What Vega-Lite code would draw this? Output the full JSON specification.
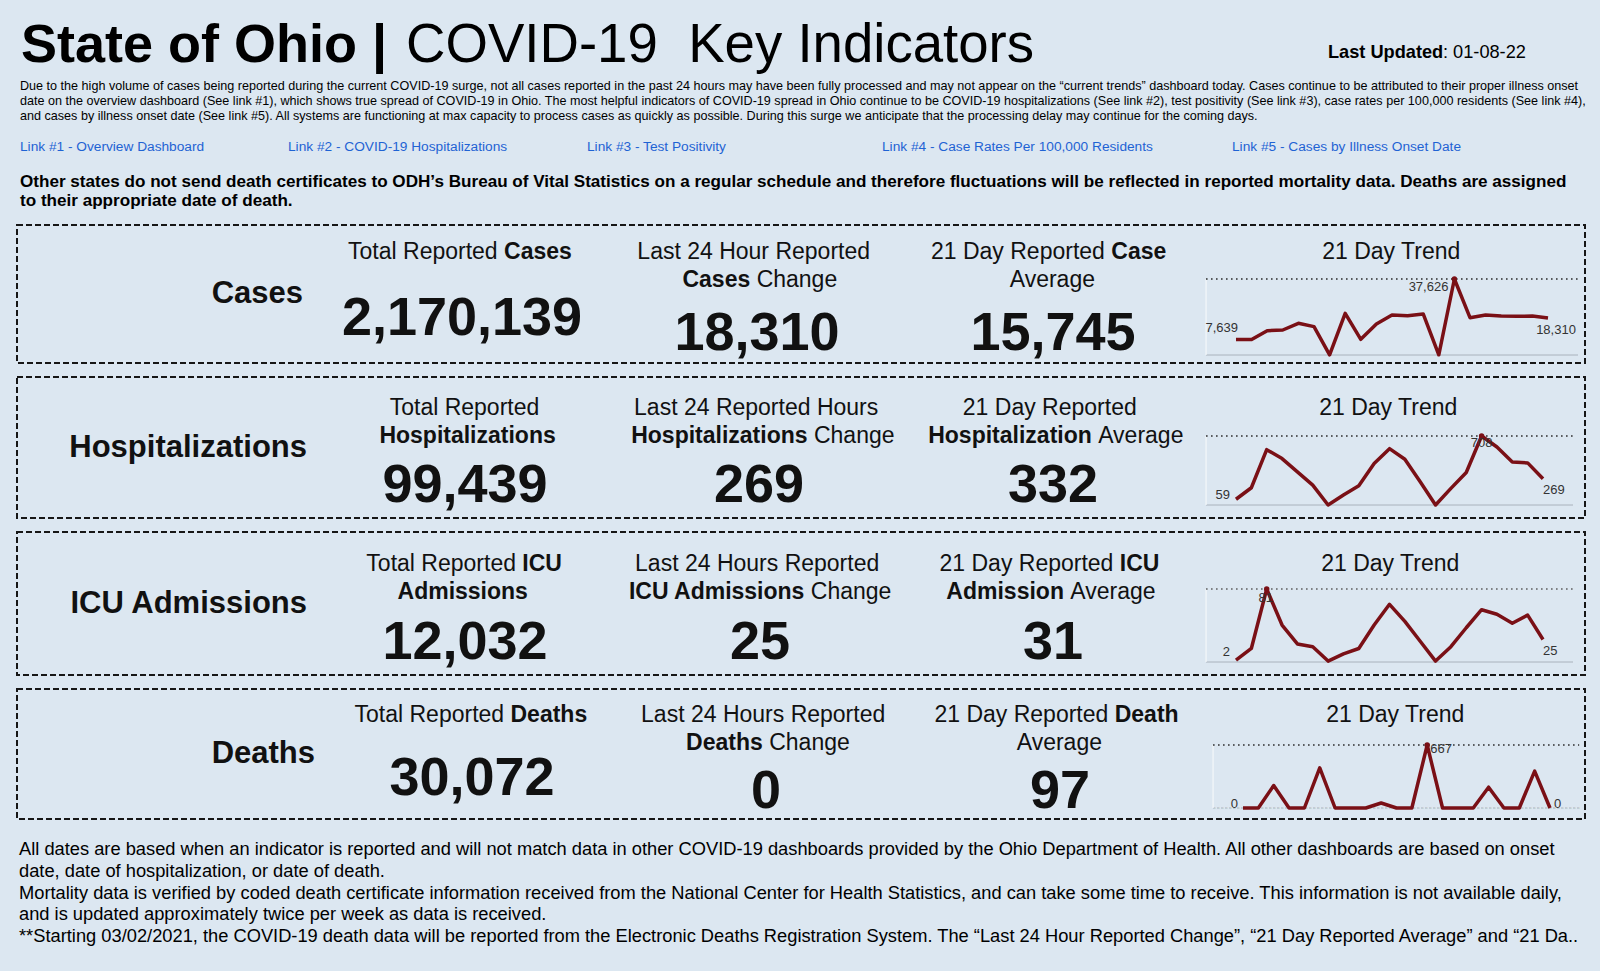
{
"$schema": "https://vega.github.io/schema/vega-lite/v6.json",
"background": "#dce7f1",
"padding": {"left": 16, "right": 16, "top": 0, "bottom": 0},
"config": {"font": "Liberation Sans", "view": {"stroke": null}},
"spacing": 14,
"bounds": "flush",
"datasets": {
"title": [
{"part": 1, "line": 1, "text": "State of Ohio |"},
{"part": 2, "line": 1, "text": "COVID-19\u00a0 Key Indicators"},
{"part": 3, "line": 1, "text": "Last Updated"},
{"part": 4, "line": 1, "text": ": 01-08-22"}
],
"notice": [
{"line": 2, "text": "Due to the high volume of cases being reported during the current COVID-19 surge, not all cases reported in the past 24 hours may have been fully processed and may not appear on the “current trends” dashboard today. Cases continue to be attributed to their proper illness onset"},
{"line": 3, "text": "date on the overview dashboard (See link #1), which shows true spread of COVID-19 in Ohio. The most helpful indicators of COVID-19 spread in Ohio continue to be COVID-19 hospitalizations (See link #2), test positivity (See link #3), case rates per 100,000 residents (See link #4),"},
{"line": 4, "text": "and cases by illness onset date (See link #5). All systems are functioning at max capacity to process cases as quickly as possible. During this surge we anticipate that the processing delay may continue for the coming days."}
],
"links": [
{"line": 5, "link": 1, "text": "Link #1 - Overview Dashboard"},
{"line": 5, "link": 2, "text": "Link #2 - COVID-19 Hospitalizations"},
{"line": 5, "link": 3, "text": "Link #3 - Test Positivity"},
{"line": 5, "link": 4, "text": "Link #4 - Case Rates Per 100,000 Residents"},
{"line": 5, "link": 5, "text": "Link #5 - Cases by Illness Onset Date"}
],
"statement": [
{"line": 6, "text": "Other states do not send death certificates to ODH’s Bureau of Vital Statistics on a regular schedule and therefore fluctuations will be reflected in reported mortality data. Deaths are assigned"},
{"line": 7, "text": "to their appropriate date of death."}
],
"footer": [
{"line": 1, "text": "All dates are based when an indicator is reported and will not match data in other COVID-19 dashboards provided by the Ohio Department of Health. All other dashboards are based on onset"},
{"line": 2, "text": "date, date of hospitalization, or date of death."},
{"line": 3, "text": "Mortality data is verified by coded death certificate information received from the National Center for Health Statistics, and can take some time to receive. This information is not available daily,"},
{"line": 4, "text": "and is updated approximately twice per week as data is received."},
{"line": 5, "text": "**Starting 03/02/2021, the COVID-19 death data will be reported from the Electronic Deaths Registration System. The “Last 24 Hour Reported Change”, “21 Day Reported Average” and “21 Da.."}
],
"kpi_labels": [
{"ind": "Cases", "col": 0, "name": "Cases"},
{"ind": "Hospitalizations", "col": 0, "name": "Hospitalizations"},
{"ind": "ICU", "col": 0, "name": "ICU Admissions"},
{"ind": "Deaths", "col": 0, "name": "Deaths"}
],
"kpi_heads": [
{"ind": "Cases", "col": 1, "line": 1, "left": "Total Reported", "right": "Cases", "strong": "right"},
{"ind": "Cases", "col": 2, "line": 1, "left": "Last 24 Hour Reported", "right": "", "strong": "none"},
{"ind": "Cases", "col": 2, "line": 2, "left": "Cases", "right": "Change", "strong": "left"},
{"ind": "Cases", "col": 3, "line": 1, "left": "21 Day Reported", "right": "Case", "strong": "right"},
{"ind": "Cases", "col": 3, "line": 2, "left": "Average", "right": "", "strong": "none"},
{"ind": "Cases", "col": 4, "line": 1, "left": "21 Day Trend", "right": "", "strong": "none"},
{"ind": "Hospitalizations", "col": 1, "line": 1, "left": "Total Reported", "right": "", "strong": "none"},
{"ind": "Hospitalizations", "col": 1, "line": 2, "left": "Hospitalizations", "right": "", "strong": "left"},
{"ind": "Hospitalizations", "col": 2, "line": 1, "left": "Last 24 Reported Hours", "right": "", "strong": "none"},
{"ind": "Hospitalizations", "col": 2, "line": 2, "left": "Hospitalizations", "right": "Change", "strong": "left"},
{"ind": "Hospitalizations", "col": 3, "line": 1, "left": "21 Day Reported", "right": "", "strong": "none"},
{"ind": "Hospitalizations", "col": 3, "line": 2, "left": "Hospitalization", "right": "Average", "strong": "left"},
{"ind": "Hospitalizations", "col": 4, "line": 1, "left": "21 Day Trend", "right": "", "strong": "none"},
{"ind": "ICU", "col": 1, "line": 1, "left": "Total Reported", "right": "ICU", "strong": "right"},
{"ind": "ICU", "col": 1, "line": 2, "left": "Admissions", "right": "", "strong": "left"},
{"ind": "ICU", "col": 2, "line": 1, "left": "Last 24 Hours Reported", "right": "", "strong": "none"},
{"ind": "ICU", "col": 2, "line": 2, "left": "ICU Admissions", "right": "Change", "strong": "left"},
{"ind": "ICU", "col": 3, "line": 1, "left": "21 Day Reported", "right": "ICU", "strong": "right"},
{"ind": "ICU", "col": 3, "line": 2, "left": "Admission", "right": "Average", "strong": "left"},
{"ind": "ICU", "col": 4, "line": 1, "left": "21 Day Trend", "right": "", "strong": "none"},
{"ind": "Deaths", "col": 1, "line": 1, "left": "Total Reported", "right": "Deaths", "strong": "right"},
{"ind": "Deaths", "col": 2, "line": 1, "left": "Last 24 Hours Reported", "right": "", "strong": "none"},
{"ind": "Deaths", "col": 2, "line": 2, "left": "Deaths", "right": "Change", "strong": "left"},
{"ind": "Deaths", "col": 3, "line": 1, "left": "21 Day Reported", "right": "Death", "strong": "right"},
{"ind": "Deaths", "col": 3, "line": 2, "left": "Average", "right": "", "strong": "none"},
{"ind": "Deaths", "col": 4, "line": 1, "left": "21 Day Trend", "right": "", "strong": "none"}
],
"kpi_values": [
{"ind": "Cases", "col": 1, "lines": 1, "value": 2170139},
{"ind": "Cases", "col": 2, "lines": 2, "value": 18310},
{"ind": "Cases", "col": 3, "lines": 2, "value": 15745},
{"ind": "Hospitalizations", "col": 1, "lines": 2, "value": 99439},
{"ind": "Hospitalizations", "col": 2, "lines": 2, "value": 269},
{"ind": "Hospitalizations", "col": 3, "lines": 2, "value": 332},
{"ind": "ICU", "col": 1, "lines": 2, "value": 12032},
{"ind": "ICU", "col": 2, "lines": 2, "value": 25},
{"ind": "ICU", "col": 3, "lines": 2, "value": 31},
{"ind": "Deaths", "col": 1, "lines": 1, "value": 30072},
{"ind": "Deaths", "col": 2, "lines": 2, "value": 0},
{"ind": "Deaths", "col": 3, "lines": 2, "value": 97}
],
"trend": [
{"ind":"Cases","day":1,"v":7639},{"ind":"Cases","day":2,"v":7700},{"ind":"Cases","day":3,"v":12050},{"ind":"Cases","day":4,"v":12380},{"ind":"Cases","day":5,"v":15680},{"ind":"Cases","day":6,"v":14030},{"ind":"Cases","day":7,"v":100},{"ind":"Cases","day":8,"v":20630},{"ind":"Cases","day":9,"v":7760},{"ind":"Cases","day":10,"v":15350},{"ind":"Cases","day":11,"v":19800},{"ind":"Cases","day":12,"v":19470},{"ind":"Cases","day":13,"v":20300},{"ind":"Cases","day":14,"v":100},{"ind":"Cases","day":15,"v":37626},{"ind":"Cases","day":16,"v":18480},{"ind":"Cases","day":17,"v":19800},{"ind":"Cases","day":18,"v":19310},{"ind":"Cases","day":19,"v":19140},{"ind":"Cases","day":20,"v":19310},{"ind":"Cases","day":21,"v":18310},
{"ind":"Hospitalizations","day":1,"v":59},{"ind":"Hospitalizations","day":2,"v":177},{"ind":"Hospitalizations","day":3,"v":568},{"ind":"Hospitalizations","day":4,"v":476},{"ind":"Hospitalizations","day":5,"v":340},{"ind":"Hospitalizations","day":6,"v":204},{"ind":"Hospitalizations","day":7,"v":0},{"ind":"Hospitalizations","day":8,"v":102},{"ind":"Hospitalizations","day":9,"v":197},{"ind":"Hospitalizations","day":10,"v":425},{"ind":"Hospitalizations","day":11,"v":578},{"ind":"Hospitalizations","day":12,"v":469},{"ind":"Hospitalizations","day":13,"v":238},{"ind":"Hospitalizations","day":14,"v":0},{"ind":"Hospitalizations","day":15,"v":170},{"ind":"Hospitalizations","day":16,"v":333},{"ind":"Hospitalizations","day":17,"v":708},{"ind":"Hospitalizations","day":18,"v":595},{"ind":"Hospitalizations","day":19,"v":442},{"ind":"Hospitalizations","day":20,"v":432},{"ind":"Hospitalizations","day":21,"v":269},
{"ind":"ICU","day":1,"v":2},{"ind":"ICU","day":2,"v":15},{"ind":"ICU","day":3,"v":81},{"ind":"ICU","day":4,"v":41},{"ind":"ICU","day":5,"v":20},{"ind":"ICU","day":6,"v":17},{"ind":"ICU","day":7,"v":1},{"ind":"ICU","day":8,"v":9},{"ind":"ICU","day":9,"v":15},{"ind":"ICU","day":10,"v":41},{"ind":"ICU","day":11,"v":64},{"ind":"ICU","day":12,"v":45},{"ind":"ICU","day":13,"v":23},{"ind":"ICU","day":14,"v":1},{"ind":"ICU","day":15,"v":17},{"ind":"ICU","day":16,"v":38},{"ind":"ICU","day":17,"v":58},{"ind":"ICU","day":18,"v":53},{"ind":"ICU","day":19,"v":43},{"ind":"ICU","day":20,"v":52},{"ind":"ICU","day":21,"v":25},
{"ind":"Deaths","day":1,"v":0},{"ind":"Deaths","day":2,"v":0},{"ind":"Deaths","day":3,"v":238},{"ind":"Deaths","day":4,"v":0},{"ind":"Deaths","day":5,"v":0},{"ind":"Deaths","day":6,"v":426},{"ind":"Deaths","day":7,"v":0},{"ind":"Deaths","day":8,"v":0},{"ind":"Deaths","day":9,"v":0},{"ind":"Deaths","day":10,"v":53},{"ind":"Deaths","day":11,"v":0},{"ind":"Deaths","day":12,"v":0},{"ind":"Deaths","day":13,"v":667},{"ind":"Deaths","day":14,"v":0},{"ind":"Deaths","day":15,"v":0},{"ind":"Deaths","day":16,"v":0},{"ind":"Deaths","day":17,"v":220},{"ind":"Deaths","day":18,"v":0},{"ind":"Deaths","day":19,"v":0},{"ind":"Deaths","day":20,"v":390},{"ind":"Deaths","day":21,"v":0}
]
},
"vconcat": [
{
"width": 1568, "height": 211,
"layer": [
{"data": {"name": "title"}, "transform": [{"filter": "datum.part==1"}],
 "mark": {"type": "text", "align": "left", "baseline": "alphabetic", "fontSize": 54, "fontWeight": "bold", "color": "#000000"},
 "encoding": {"x": {"field": "part", "type": "quantitative", "scale": {"domain": [1,2,3,4], "range": [4,389,1311,1426], "nice": false, "zero": false}, "axis": null},
  "y": {"field": "line", "type": "quantitative", "scale": {"domain": [1,2,3,4,5,6,7], "range": [62,90,105,120,151,187,206], "nice": false, "zero": false}, "axis": null},
  "text": {"field": "text", "type": "nominal"}}},
{"data": {"name": "title"}, "transform": [{"filter": "datum.part==2"}],
 "mark": {"type": "text", "align": "left", "baseline": "alphabetic", "fontSize": 54.6, "fontWeight": "normal", "color": "#000000"},
 "encoding": {"x": {"field": "part", "type": "quantitative", "scale": {"domain": [1,2,3,4], "range": [4,389,1311,1426], "nice": false, "zero": false}, "axis": null},
  "y": {"field": "line", "type": "quantitative", "scale": {"domain": [1,2,3,4,5,6,7], "range": [62,90,105,120,151,187,206], "nice": false, "zero": false}, "axis": null},
  "text": {"field": "text", "type": "nominal"}}},
{"data": {"name": "title"}, "transform": [{"filter": "datum.part==3"}],
 "mark": {"type": "text", "align": "left", "baseline": "alphabetic", "fontSize": 18.2, "fontWeight": "bold", "color": "#000000", "dy": -4},
 "encoding": {"x": {"field": "part", "type": "quantitative", "scale": {"domain": [1,2,3,4], "range": [4,389,1311,1426], "nice": false, "zero": false}, "axis": null},
  "y": {"field": "line", "type": "quantitative", "scale": {"domain": [1,2,3,4,5,6,7], "range": [62,90,105,120,151,187,206], "nice": false, "zero": false}, "axis": null},
  "text": {"field": "text", "type": "nominal"}}},
{"data": {"name": "title"}, "transform": [{"filter": "datum.part==4"}],
 "mark": {"type": "text", "align": "left", "baseline": "alphabetic", "fontSize": 18.2, "fontWeight": "normal", "color": "#000000", "dy": -4},
 "encoding": {"x": {"field": "part", "type": "quantitative", "scale": {"domain": [1,2,3,4], "range": [4,389,1311,1426], "nice": false, "zero": false}, "axis": null},
  "y": {"field": "line", "type": "quantitative", "scale": {"domain": [1,2,3,4,5,6,7], "range": [62,90,105,120,151,187,206], "nice": false, "zero": false}, "axis": null},
  "text": {"field": "text", "type": "nominal"}}},
{"data": {"name": "notice"},
 "mark": {"type": "text", "align": "left", "baseline": "alphabetic", "fontSize": 12.6, "color": "#000000"},
 "encoding": {"x": {"datum": 0, "type": "quantitative", "scale": {"domain": [0,1], "range": [3,1568], "nice": false, "zero": false}, "axis": null},
  "y": {"field": "line", "type": "quantitative", "scale": {"domain": [1,2,3,4,5,6,7], "range": [62,90,105,120,151,187,206], "nice": false, "zero": false}, "axis": null},
  "text": {"field": "text", "type": "nominal"}}},
{"data": {"name": "links"},
 "mark": {"type": "text", "align": "left", "baseline": "alphabetic", "fontSize": 13.7, "color": "#1f63d4"},
 "encoding": {"x": {"field": "link", "type": "quantitative", "scale": {"domain": [1,2,3,4,5], "range": [3,271,570,865,1215], "nice": false, "zero": false}, "axis": null},
  "y": {"field": "line", "type": "quantitative", "scale": {"domain": [1,2,3,4,5,6,7], "range": [62,90,105,120,151,187,206], "nice": false, "zero": false}, "axis": null},
  "text": {"field": "text", "type": "nominal"}}},
{"data": {"name": "statement"},
 "mark": {"type": "text", "align": "left", "baseline": "alphabetic", "fontSize": 17.1, "fontWeight": "bold", "color": "#000000"},
 "encoding": {"x": {"datum": 0, "type": "quantitative", "scale": {"domain": [0,1], "range": [3,1568], "nice": false, "zero": false}, "axis": null},
  "y": {"field": "line", "type": "quantitative", "scale": {"domain": [1,2,3,4,5,6,7], "range": [62,90,105,120,151,187,206], "nice": false, "zero": false}, "axis": null},
  "text": {"field": "text", "type": "nominal"}}}
],
"resolve": {"scale": {"x": "independent", "y": "independent"}}
},
{
"width": 1568, "height": 138,
"view": {"stroke": "#161616", "strokeWidth": 2, "strokeDash": [6, 3]},
"layer": [
{"data": {"name": "kpi_labels"}, "transform": [{"filter": "datum.ind=='Cases'"}],
 "mark": {"type": "text", "align": "right", "baseline": "middle", "fontSize": 31, "fontWeight": "bold", "color": "#111111"},
 "encoding": {"x": {"field": "col", "type": "quantitative", "scale": {"domain": [0,1,2,3,4], "range": [286,445,740,1036,1375], "nice": false, "zero": false}, "axis": null}, "text": {"field": "name", "type": "nominal"}}},
{"data": {"name": "kpi_heads"}, "transform": [{"filter": "datum.ind=='Cases'"}],
 "mark": {"type": "text", "align": "right", "baseline": "middle", "fontSize": 23, "color": "#111111", "fontWeight": {"expr": "datum.strong=='left'?'bold':'normal'"}, "dx": {"expr": "11.5*(((datum.strong=='left'?0.59:0.54)*length(datum.left)-0.28*(length(datum.left)-length(replace(datum.left,regexp('[iljtfrI .,:|]','g'),'')))+(datum.strong=='left'?0.13:0.15)*(length(datum.left)-length(replace(datum.left,regexp('[A-HJ-Z]','g'),''))))-((datum.strong=='right'?0.59:0.54)*length(datum.right)-0.28*(length(datum.right)-length(replace(datum.right,regexp('[iljtfrI .,:|]','g'),'')))+(datum.strong=='right'?0.13:0.15)*(length(datum.right)-length(replace(datum.right,regexp('[A-HJ-Z]','g'),'')))))+(datum.right==''?0:-3.2)"}},
 "encoding": {"x": {"field": "col", "type": "quantitative", "scale": {"domain": [0,1,2,3,4], "range": [286,445,740,1036,1375], "nice": false, "zero": false}, "axis": null},
  "y": {"field": "line", "type": "quantitative", "scale": {"domain": [1,2], "range": [27,55], "nice": false, "zero": false}, "axis": null},
  "text": {"field": "left", "type": "nominal"}}},
{"data": {"name": "kpi_heads"}, "transform": [{"filter": "datum.ind=='Cases' && datum.right!=''"}],
 "mark": {"type": "text", "align": "left", "baseline": "middle", "fontSize": 23, "color": "#111111", "fontWeight": {"expr": "datum.strong=='right'?'bold':'normal'"}, "dx": {"expr": "11.5*(((datum.strong=='left'?0.59:0.54)*length(datum.left)-0.28*(length(datum.left)-length(replace(datum.left,regexp('[iljtfrI .,:|]','g'),'')))+(datum.strong=='left'?0.13:0.15)*(length(datum.left)-length(replace(datum.left,regexp('[A-HJ-Z]','g'),''))))-((datum.strong=='right'?0.59:0.54)*length(datum.right)-0.28*(length(datum.right)-length(replace(datum.right,regexp('[iljtfrI .,:|]','g'),'')))+(datum.strong=='right'?0.13:0.15)*(length(datum.right)-length(replace(datum.right,regexp('[A-HJ-Z]','g'),'')))))+3.2"}},
 "encoding": {"x": {"field": "col", "type": "quantitative", "scale": {"domain": [0,1,2,3,4], "range": [286,445,740,1036,1375], "nice": false, "zero": false}, "axis": null},
  "y": {"field": "line", "type": "quantitative", "scale": {"domain": [1,2], "range": [27,55], "nice": false, "zero": false}, "axis": null},
  "text": {"field": "right", "type": "nominal"}}},
{"data": {"name": "kpi_values"}, "transform": [{"filter": "datum.ind=='Cases'"}],
 "mark": {"type": "text", "align": "center", "baseline": "middle", "fontSize": 54, "fontWeight": "bold", "color": "#111111"},
 "encoding": {"x": {"field": "col", "type": "quantitative", "scale": {"domain": [0,1,2,3,4], "range": [286,445,740,1036,1375], "nice": false, "zero": false}, "axis": null},
  "y": {"field": "lines", "type": "quantitative", "scale": {"domain": [1,2], "range": [93.5,108.5], "nice": false, "zero": false}, "axis": null},
  "text": {"field": "value", "type": "quantitative", "format": ","}}},
{"data": {"name": "trend"}, "transform": [{"filter": "datum.ind=='Cases'"}],
 "layer": [
 {"mark": {"type": "rule", "color": "#c2ccd6", "strokeWidth": 1},
  "encoding": {"x": {"datum": -0.92, "type": "quantitative", "scale": {"domain": [1,21], "range": [1219,1531], "nice": false, "zero": false}, "axis": null}, "x2": {"datum": 22.92},
   "y": {"datum": 0, "type": "quantitative", "scale": {"zero": true, "nice": false, "range": [130,54]}, "axis": null}}},
 {"mark": {"type": "rule", "color": "#f4f7fa", "strokeWidth": 1.2},
  "encoding": {"x": {"datum": -0.92, "type": "quantitative", "scale": {"domain": [1,21], "range": [1219,1531], "nice": false, "zero": false}, "axis": null},
   "y": {"aggregate": "max", "field": "v", "type": "quantitative", "scale": {"zero": true, "nice": false, "range": [130,54]}, "axis": null}, "y2": {"datum": 0}}},
 {"mark": {"type": "rule", "color": "#222222", "strokeWidth": 1.5, "strokeDash": [1.5, 3.5]},
  "encoding": {"x": {"datum": -0.92, "type": "quantitative", "scale": {"domain": [1,21], "range": [1219,1531], "nice": false, "zero": false}, "axis": null}, "x2": {"datum": 22.92},
   "y": {"aggregate": "max", "field": "v", "type": "quantitative", "scale": {"zero": true, "nice": false, "range": [130,54]}, "axis": null}}},
 {"mark": {"type": "line", "color": "#7a1016", "strokeWidth": 3.5, "strokeJoin": "round"},
  "encoding": {"x": {"field": "day", "type": "quantitative", "scale": {"domain": [1,21], "range": [1219,1531], "nice": false, "zero": false}, "axis": null},
   "y": {"field": "v", "type": "quantitative", "scale": {"zero": true, "nice": false, "range": [130,54]}, "axis": null}}},
 {"transform": [{"joinaggregate": [{"op": "max", "field": "v", "as": "vmax"}]}, {"filter": "datum.v==datum.vmax"}],
  "mark": {"type": "circle", "size": 30, "color": "#7a1016", "opacity": 1},
  "encoding": {"x": {"field": "day", "type": "quantitative", "scale": {"domain": [1,21], "range": [1219,1531], "nice": false, "zero": false}, "axis": null},
   "y": {"field": "v", "type": "quantitative", "scale": {"zero": true, "nice": false, "range": [130,54]}, "axis": null}}},
 {"transform": [{"filter": "datum.day==1"}],
  "mark": {"type": "text", "fontSize": 13, "color": "#333333", "align": "right", "baseline": "middle", "dx": 2, "dy": -12},
  "encoding": {"x": {"field": "day", "type": "quantitative", "scale": {"domain": [1,21], "range": [1219,1531], "nice": false, "zero": false}, "axis": null},
   "y": {"field": "v", "type": "quantitative", "scale": {"zero": true, "nice": false, "range": [130,54]}, "axis": null}, "text": {"field": "v", "type": "quantitative", "format": ","}}},
 {"transform": [{"filter": "datum.day==21"}],
  "mark": {"type": "text", "fontSize": 13, "color": "#333333", "align": "center", "baseline": "middle", "dx": 8, "dy": 12},
  "encoding": {"x": {"field": "day", "type": "quantitative", "scale": {"domain": [1,21], "range": [1219,1531], "nice": false, "zero": false}, "axis": null},
   "y": {"field": "v", "type": "quantitative", "scale": {"zero": true, "nice": false, "range": [130,54]}, "axis": null}, "text": {"field": "v", "type": "quantitative", "format": ","}}},
 {"transform": [{"joinaggregate": [{"op": "max", "field": "v", "as": "vmax"}]}, {"filter": "datum.v==datum.vmax"}],
  "mark": {"type": "text", "fontSize": 13, "color": "#333333", "align": "right", "baseline": "middle", "dx": -6, "dy": 8},
  "encoding": {"x": {"field": "day", "type": "quantitative", "scale": {"domain": [1,21], "range": [1219,1531], "nice": false, "zero": false}, "axis": null},
   "y": {"field": "v", "type": "quantitative", "scale": {"zero": true, "nice": false, "range": [130,54]}, "axis": null}, "text": {"field": "v", "type": "quantitative", "format": ","}}}
 ]}
],
"resolve": {"scale": {"x": "independent", "y": "independent"}}
},
{
"width": 1568, "height": 141,
"view": {"stroke": "#161616", "strokeWidth": 2, "strokeDash": [6, 3]},
"layer": [
{"data": {"name": "kpi_labels"}, "transform": [{"filter": "datum.ind=='Hospitalizations'"}],
 "mark": {"type": "text", "align": "right", "baseline": "middle", "fontSize": 31, "fontWeight": "bold", "color": "#111111"},
 "encoding": {"x": {"field": "col", "type": "quantitative", "scale": {"domain": [0,1,2,3,4], "range": [290,448,742,1036,1372], "nice": false, "zero": false}, "axis": null}, "text": {"field": "name", "type": "nominal"}}},
{"data": {"name": "kpi_heads"}, "transform": [{"filter": "datum.ind=='Hospitalizations'"}],
 "mark": {"type": "text", "align": "right", "baseline": "middle", "fontSize": 23, "color": "#111111", "fontWeight": {"expr": "datum.strong=='left'?'bold':'normal'"}, "dx": {"expr": "11.5*(((datum.strong=='left'?0.59:0.54)*length(datum.left)-0.28*(length(datum.left)-length(replace(datum.left,regexp('[iljtfrI .,:|]','g'),'')))+(datum.strong=='left'?0.13:0.15)*(length(datum.left)-length(replace(datum.left,regexp('[A-HJ-Z]','g'),''))))-((datum.strong=='right'?0.59:0.54)*length(datum.right)-0.28*(length(datum.right)-length(replace(datum.right,regexp('[iljtfrI .,:|]','g'),'')))+(datum.strong=='right'?0.13:0.15)*(length(datum.right)-length(replace(datum.right,regexp('[A-HJ-Z]','g'),'')))))+(datum.right==''?0:-3.2)"}},
 "encoding": {"x": {"field": "col", "type": "quantitative", "scale": {"domain": [0,1,2,3,4], "range": [290,448,742,1036,1372], "nice": false, "zero": false}, "axis": null},
  "y": {"field": "line", "type": "quantitative", "scale": {"domain": [1,2], "range": [31,59], "nice": false, "zero": false}, "axis": null},
  "text": {"field": "left", "type": "nominal"}}},
{"data": {"name": "kpi_heads"}, "transform": [{"filter": "datum.ind=='Hospitalizations' && datum.right!=''"}],
 "mark": {"type": "text", "align": "left", "baseline": "middle", "fontSize": 23, "color": "#111111", "fontWeight": {"expr": "datum.strong=='right'?'bold':'normal'"}, "dx": {"expr": "11.5*(((datum.strong=='left'?0.59:0.54)*length(datum.left)-0.28*(length(datum.left)-length(replace(datum.left,regexp('[iljtfrI .,:|]','g'),'')))+(datum.strong=='left'?0.13:0.15)*(length(datum.left)-length(replace(datum.left,regexp('[A-HJ-Z]','g'),''))))-((datum.strong=='right'?0.59:0.54)*length(datum.right)-0.28*(length(datum.right)-length(replace(datum.right,regexp('[iljtfrI .,:|]','g'),'')))+(datum.strong=='right'?0.13:0.15)*(length(datum.right)-length(replace(datum.right,regexp('[A-HJ-Z]','g'),'')))))+3.2"}},
 "encoding": {"x": {"field": "col", "type": "quantitative", "scale": {"domain": [0,1,2,3,4], "range": [290,448,742,1036,1372], "nice": false, "zero": false}, "axis": null},
  "y": {"field": "line", "type": "quantitative", "scale": {"domain": [1,2], "range": [31,59], "nice": false, "zero": false}, "axis": null},
  "text": {"field": "right", "type": "nominal"}}},
{"data": {"name": "kpi_values"}, "transform": [{"filter": "datum.ind=='Hospitalizations'"}],
 "mark": {"type": "text", "align": "center", "baseline": "middle", "fontSize": 54, "fontWeight": "bold", "color": "#111111"},
 "encoding": {"x": {"field": "col", "type": "quantitative", "scale": {"domain": [0,1,2,3,4], "range": [290,448,742,1036,1372], "nice": false, "zero": false}, "axis": null},
  "y": {"field": "lines", "type": "quantitative", "scale": {"domain": [1,2], "range": [93.5,108.5], "nice": false, "zero": false}, "axis": null},
  "text": {"field": "value", "type": "quantitative", "format": ","}}},
{"data": {"name": "trend"}, "transform": [{"filter": "datum.ind=='Hospitalizations'"}],
 "layer": [
 {"mark": {"type": "rule", "color": "#c2ccd6", "strokeWidth": 1},
  "encoding": {"x": {"datum": -0.95, "type": "quantitative", "scale": {"domain": [1,21], "range": [1219,1526], "nice": false, "zero": false}, "axis": null}, "x2": {"datum": 22.95},
   "y": {"datum": 0, "type": "quantitative", "scale": {"zero": true, "nice": false, "range": [128,59]}, "axis": null}}},
 {"mark": {"type": "rule", "color": "#f4f7fa", "strokeWidth": 1.2},
  "encoding": {"x": {"datum": -0.95, "type": "quantitative", "scale": {"domain": [1,21], "range": [1219,1526], "nice": false, "zero": false}, "axis": null},
   "y": {"aggregate": "max", "field": "v", "type": "quantitative", "scale": {"zero": true, "nice": false, "range": [128,59]}, "axis": null}, "y2": {"datum": 0}}},
 {"mark": {"type": "rule", "color": "#222222", "strokeWidth": 1.5, "strokeDash": [1.5, 3.5]},
  "encoding": {"x": {"datum": -0.95, "type": "quantitative", "scale": {"domain": [1,21], "range": [1219,1526], "nice": false, "zero": false}, "axis": null}, "x2": {"datum": 22.95},
   "y": {"aggregate": "max", "field": "v", "type": "quantitative", "scale": {"zero": true, "nice": false, "range": [128,59]}, "axis": null}}},
 {"mark": {"type": "line", "color": "#7a1016", "strokeWidth": 3.5, "strokeJoin": "round"},
  "encoding": {"x": {"field": "day", "type": "quantitative", "scale": {"domain": [1,21], "range": [1219,1526], "nice": false, "zero": false}, "axis": null},
   "y": {"field": "v", "type": "quantitative", "scale": {"zero": true, "nice": false, "range": [128,59]}, "axis": null}}},
 {"transform": [{"joinaggregate": [{"op": "max", "field": "v", "as": "vmax"}]}, {"filter": "datum.v==datum.vmax"}],
  "mark": {"type": "circle", "size": 30, "color": "#7a1016", "opacity": 1},
  "encoding": {"x": {"field": "day", "type": "quantitative", "scale": {"domain": [1,21], "range": [1219,1526], "nice": false, "zero": false}, "axis": null},
   "y": {"field": "v", "type": "quantitative", "scale": {"zero": true, "nice": false, "range": [128,59]}, "axis": null}}},
 {"transform": [{"filter": "datum.day==1"}],
  "mark": {"type": "text", "fontSize": 13, "color": "#333333", "align": "right", "baseline": "middle", "dx": -6, "dy": -4},
  "encoding": {"x": {"field": "day", "type": "quantitative", "scale": {"domain": [1,21], "range": [1219,1526], "nice": false, "zero": false}, "axis": null},
   "y": {"field": "v", "type": "quantitative", "scale": {"zero": true, "nice": false, "range": [128,59]}, "axis": null}, "text": {"field": "v", "type": "quantitative", "format": ","}}},
 {"transform": [{"filter": "datum.day==21"}],
  "mark": {"type": "text", "fontSize": 13, "color": "#333333", "align": "left", "baseline": "middle", "dx": 0, "dy": 11},
  "encoding": {"x": {"field": "day", "type": "quantitative", "scale": {"domain": [1,21], "range": [1219,1526], "nice": false, "zero": false}, "axis": null},
   "y": {"field": "v", "type": "quantitative", "scale": {"zero": true, "nice": false, "range": [128,59]}, "axis": null}, "text": {"field": "v", "type": "quantitative", "format": ","}}},
 {"transform": [{"joinaggregate": [{"op": "max", "field": "v", "as": "vmax"}]}, {"filter": "datum.v==datum.vmax"}],
  "mark": {"type": "text", "fontSize": 13, "color": "#333333", "align": "center", "baseline": "middle", "dx": 0, "dy": 7},
  "encoding": {"x": {"field": "day", "type": "quantitative", "scale": {"domain": [1,21], "range": [1219,1526], "nice": false, "zero": false}, "axis": null},
   "y": {"field": "v", "type": "quantitative", "scale": {"zero": true, "nice": false, "range": [128,59]}, "axis": null}, "text": {"field": "v", "type": "quantitative", "format": ","}}}
 ]}
],
"resolve": {"scale": {"x": "independent", "y": "independent"}}
},
{
"width": 1568, "height": 143,
"view": {"stroke": "#161616", "strokeWidth": 2, "strokeDash": [6, 3]},
"layer": [
{"data": {"name": "kpi_labels"}, "transform": [{"filter": "datum.ind=='ICU'"}],
 "mark": {"type": "text", "align": "right", "baseline": "middle", "fontSize": 31, "fontWeight": "bold", "color": "#111111"},
 "encoding": {"x": {"field": "col", "type": "quantitative", "scale": {"domain": [0,1,2,3,4], "range": [290,448,743,1036,1374], "nice": false, "zero": false}, "axis": null}, "text": {"field": "name", "type": "nominal"}}},
{"data": {"name": "kpi_heads"}, "transform": [{"filter": "datum.ind=='ICU'"}],
 "mark": {"type": "text", "align": "right", "baseline": "middle", "fontSize": 23, "color": "#111111", "fontWeight": {"expr": "datum.strong=='left'?'bold':'normal'"}, "dx": {"expr": "11.5*(((datum.strong=='left'?0.59:0.54)*length(datum.left)-0.28*(length(datum.left)-length(replace(datum.left,regexp('[iljtfrI .,:|]','g'),'')))+(datum.strong=='left'?0.13:0.15)*(length(datum.left)-length(replace(datum.left,regexp('[A-HJ-Z]','g'),''))))-((datum.strong=='right'?0.59:0.54)*length(datum.right)-0.28*(length(datum.right)-length(replace(datum.right,regexp('[iljtfrI .,:|]','g'),'')))+(datum.strong=='right'?0.13:0.15)*(length(datum.right)-length(replace(datum.right,regexp('[A-HJ-Z]','g'),'')))))+(datum.right==''?0:-3.2)"}},
 "encoding": {"x": {"field": "col", "type": "quantitative", "scale": {"domain": [0,1,2,3,4], "range": [290,448,743,1036,1374], "nice": false, "zero": false}, "axis": null},
  "y": {"field": "line", "type": "quantitative", "scale": {"domain": [1,2], "range": [32,60], "nice": false, "zero": false}, "axis": null},
  "text": {"field": "left", "type": "nominal"}}},
{"data": {"name": "kpi_heads"}, "transform": [{"filter": "datum.ind=='ICU' && datum.right!=''"}],
 "mark": {"type": "text", "align": "left", "baseline": "middle", "fontSize": 23, "color": "#111111", "fontWeight": {"expr": "datum.strong=='right'?'bold':'normal'"}, "dx": {"expr": "11.5*(((datum.strong=='left'?0.59:0.54)*length(datum.left)-0.28*(length(datum.left)-length(replace(datum.left,regexp('[iljtfrI .,:|]','g'),'')))+(datum.strong=='left'?0.13:0.15)*(length(datum.left)-length(replace(datum.left,regexp('[A-HJ-Z]','g'),''))))-((datum.strong=='right'?0.59:0.54)*length(datum.right)-0.28*(length(datum.right)-length(replace(datum.right,regexp('[iljtfrI .,:|]','g'),'')))+(datum.strong=='right'?0.13:0.15)*(length(datum.right)-length(replace(datum.right,regexp('[A-HJ-Z]','g'),'')))))+3.2"}},
 "encoding": {"x": {"field": "col", "type": "quantitative", "scale": {"domain": [0,1,2,3,4], "range": [290,448,743,1036,1374], "nice": false, "zero": false}, "axis": null},
  "y": {"field": "line", "type": "quantitative", "scale": {"domain": [1,2], "range": [32,60], "nice": false, "zero": false}, "axis": null},
  "text": {"field": "right", "type": "nominal"}}},
{"data": {"name": "kpi_values"}, "transform": [{"filter": "datum.ind=='ICU'"}],
 "mark": {"type": "text", "align": "center", "baseline": "middle", "fontSize": 54, "fontWeight": "bold", "color": "#111111"},
 "encoding": {"x": {"field": "col", "type": "quantitative", "scale": {"domain": [0,1,2,3,4], "range": [290,448,743,1036,1374], "nice": false, "zero": false}, "axis": null},
  "y": {"field": "lines", "type": "quantitative", "scale": {"domain": [1,2], "range": [95.5,110.5], "nice": false, "zero": false}, "axis": null},
  "text": {"field": "value", "type": "quantitative", "format": ","}}},
{"data": {"name": "trend"}, "transform": [{"filter": "datum.ind=='ICU'"}],
 "layer": [
 {"mark": {"type": "rule", "color": "#c2ccd6", "strokeWidth": 1},
  "encoding": {"x": {"datum": -0.95, "type": "quantitative", "scale": {"domain": [1,21], "range": [1219,1526], "nice": false, "zero": false}, "axis": null}, "x2": {"datum": 22.95},
   "y": {"datum": 0, "type": "quantitative", "scale": {"zero": true, "nice": false, "range": [130,57]}, "axis": null}}},
 {"mark": {"type": "rule", "color": "#f4f7fa", "strokeWidth": 1.2},
  "encoding": {"x": {"datum": -0.95, "type": "quantitative", "scale": {"domain": [1,21], "range": [1219,1526], "nice": false, "zero": false}, "axis": null},
   "y": {"aggregate": "max", "field": "v", "type": "quantitative", "scale": {"zero": true, "nice": false, "range": [130,57]}, "axis": null}, "y2": {"datum": 0}}},
 {"mark": {"type": "rule", "color": "#555555", "strokeWidth": 1.5, "strokeDash": [1.5, 3.5]},
  "encoding": {"x": {"datum": -0.95, "type": "quantitative", "scale": {"domain": [1,21], "range": [1219,1526], "nice": false, "zero": false}, "axis": null}, "x2": {"datum": 22.95},
   "y": {"aggregate": "max", "field": "v", "type": "quantitative", "scale": {"zero": true, "nice": false, "range": [130,57]}, "axis": null}}},
 {"mark": {"type": "line", "color": "#7a1016", "strokeWidth": 3.5, "strokeJoin": "round"},
  "encoding": {"x": {"field": "day", "type": "quantitative", "scale": {"domain": [1,21], "range": [1219,1526], "nice": false, "zero": false}, "axis": null},
   "y": {"field": "v", "type": "quantitative", "scale": {"zero": true, "nice": false, "range": [130,57]}, "axis": null}}},
 {"transform": [{"joinaggregate": [{"op": "max", "field": "v", "as": "vmax"}]}, {"filter": "datum.v==datum.vmax"}],
  "mark": {"type": "circle", "size": 30, "color": "#7a1016", "opacity": 1},
  "encoding": {"x": {"field": "day", "type": "quantitative", "scale": {"domain": [1,21], "range": [1219,1526], "nice": false, "zero": false}, "axis": null},
   "y": {"field": "v", "type": "quantitative", "scale": {"zero": true, "nice": false, "range": [130,57]}, "axis": null}}},
 {"transform": [{"filter": "datum.day==1"}],
  "mark": {"type": "text", "fontSize": 13, "color": "#333333", "align": "right", "baseline": "middle", "dx": -6, "dy": -8},
  "encoding": {"x": {"field": "day", "type": "quantitative", "scale": {"domain": [1,21], "range": [1219,1526], "nice": false, "zero": false}, "axis": null},
   "y": {"field": "v", "type": "quantitative", "scale": {"zero": true, "nice": false, "range": [130,57]}, "axis": null}, "text": {"field": "v", "type": "quantitative", "format": ","}}},
 {"transform": [{"filter": "datum.day==21"}],
  "mark": {"type": "text", "fontSize": 13, "color": "#333333", "align": "left", "baseline": "middle", "dx": 0, "dy": 12},
  "encoding": {"x": {"field": "day", "type": "quantitative", "scale": {"domain": [1,21], "range": [1219,1526], "nice": false, "zero": false}, "axis": null},
   "y": {"field": "v", "type": "quantitative", "scale": {"zero": true, "nice": false, "range": [130,57]}, "axis": null}, "text": {"field": "v", "type": "quantitative", "format": ","}}},
 {"transform": [{"joinaggregate": [{"op": "max", "field": "v", "as": "vmax"}]}, {"filter": "datum.v==datum.vmax"}],
  "mark": {"type": "text", "fontSize": 13, "color": "#333333", "align": "center", "baseline": "middle", "dx": -1, "dy": 9},
  "encoding": {"x": {"field": "day", "type": "quantitative", "scale": {"domain": [1,21], "range": [1219,1526], "nice": false, "zero": false}, "axis": null},
   "y": {"field": "v", "type": "quantitative", "scale": {"zero": true, "nice": false, "range": [130,57]}, "axis": null}, "text": {"field": "v", "type": "quantitative", "format": ","}}}
 ]}
],
"resolve": {"scale": {"x": "independent", "y": "independent"}}
},
{
"width": 1568, "height": 130,
"view": {"stroke": "#161616", "strokeWidth": 2, "strokeDash": [6, 3]},
"layer": [
{"data": {"name": "kpi_labels"}, "transform": [{"filter": "datum.ind=='Deaths'"}],
 "mark": {"type": "text", "align": "right", "baseline": "middle", "fontSize": 31, "fontWeight": "bold", "color": "#111111"},
 "encoding": {"x": {"field": "col", "type": "quantitative", "scale": {"domain": [0,1,2,3,4], "range": [298,455,749,1043,1379], "nice": false, "zero": false}, "axis": null}, "text": {"field": "name", "type": "nominal"}}},
{"data": {"name": "kpi_heads"}, "transform": [{"filter": "datum.ind=='Deaths'"}],
 "mark": {"type": "text", "align": "right", "baseline": "middle", "fontSize": 23, "color": "#111111", "fontWeight": {"expr": "datum.strong=='left'?'bold':'normal'"}, "dx": {"expr": "11.5*(((datum.strong=='left'?0.59:0.54)*length(datum.left)-0.28*(length(datum.left)-length(replace(datum.left,regexp('[iljtfrI .,:|]','g'),'')))+(datum.strong=='left'?0.13:0.15)*(length(datum.left)-length(replace(datum.left,regexp('[A-HJ-Z]','g'),''))))-((datum.strong=='right'?0.59:0.54)*length(datum.right)-0.28*(length(datum.right)-length(replace(datum.right,regexp('[iljtfrI .,:|]','g'),'')))+(datum.strong=='right'?0.13:0.15)*(length(datum.right)-length(replace(datum.right,regexp('[A-HJ-Z]','g'),'')))))+(datum.right==''?0:-3.2)"}},
 "encoding": {"x": {"field": "col", "type": "quantitative", "scale": {"domain": [0,1,2,3,4], "range": [298,455,749,1043,1379], "nice": false, "zero": false}, "axis": null},
  "y": {"field": "line", "type": "quantitative", "scale": {"domain": [1,2], "range": [26,54], "nice": false, "zero": false}, "axis": null},
  "text": {"field": "left", "type": "nominal"}}},
{"data": {"name": "kpi_heads"}, "transform": [{"filter": "datum.ind=='Deaths' && datum.right!=''"}],
 "mark": {"type": "text", "align": "left", "baseline": "middle", "fontSize": 23, "color": "#111111", "fontWeight": {"expr": "datum.strong=='right'?'bold':'normal'"}, "dx": {"expr": "11.5*(((datum.strong=='left'?0.59:0.54)*length(datum.left)-0.28*(length(datum.left)-length(replace(datum.left,regexp('[iljtfrI .,:|]','g'),'')))+(datum.strong=='left'?0.13:0.15)*(length(datum.left)-length(replace(datum.left,regexp('[A-HJ-Z]','g'),''))))-((datum.strong=='right'?0.59:0.54)*length(datum.right)-0.28*(length(datum.right)-length(replace(datum.right,regexp('[iljtfrI .,:|]','g'),'')))+(datum.strong=='right'?0.13:0.15)*(length(datum.right)-length(replace(datum.right,regexp('[A-HJ-Z]','g'),'')))))+3.2"}},
 "encoding": {"x": {"field": "col", "type": "quantitative", "scale": {"domain": [0,1,2,3,4], "range": [298,455,749,1043,1379], "nice": false, "zero": false}, "axis": null},
  "y": {"field": "line", "type": "quantitative", "scale": {"domain": [1,2], "range": [26,54], "nice": false, "zero": false}, "axis": null},
  "text": {"field": "right", "type": "nominal"}}},
{"data": {"name": "kpi_values"}, "transform": [{"filter": "datum.ind=='Deaths'"}],
 "mark": {"type": "text", "align": "center", "baseline": "middle", "fontSize": 54, "fontWeight": "bold", "color": "#111111"},
 "encoding": {"x": {"field": "col", "type": "quantitative", "scale": {"domain": [0,1,2,3,4], "range": [298,455,749,1043,1379], "nice": false, "zero": false}, "axis": null},
  "y": {"field": "lines", "type": "quantitative", "scale": {"domain": [1,2], "range": [90,103], "nice": false, "zero": false}, "axis": null},
  "text": {"field": "value", "type": "quantitative", "format": ","}}},
{"data": {"name": "trend"}, "transform": [{"filter": "datum.ind=='Deaths'"}],
 "layer": [
 {"mark": {"type": "rule", "color": "#c2ccd6", "strokeWidth": 1, "strokeDash": [2, 2]},
  "encoding": {"x": {"datum": -0.95, "type": "quantitative", "scale": {"domain": [1,21], "range": [1226,1533], "nice": false, "zero": false}, "axis": null}, "x2": {"datum": 22.9},
   "y": {"datum": 0, "type": "quantitative", "scale": {"zero": true, "nice": false, "range": [119,56]}, "axis": null}}},
 {"mark": {"type": "rule", "color": "#f4f7fa", "strokeWidth": 1.2},
  "encoding": {"x": {"datum": -0.95, "type": "quantitative", "scale": {"domain": [1,21], "range": [1226,1533], "nice": false, "zero": false}, "axis": null},
   "y": {"aggregate": "max", "field": "v", "type": "quantitative", "scale": {"zero": true, "nice": false, "range": [119,56]}, "axis": null}, "y2": {"datum": 0}}},
 {"mark": {"type": "rule", "color": "#222222", "strokeWidth": 1.5, "strokeDash": [1.5, 3.5]},
  "encoding": {"x": {"datum": -0.95, "type": "quantitative", "scale": {"domain": [1,21], "range": [1226,1533], "nice": false, "zero": false}, "axis": null}, "x2": {"datum": 22.9},
   "y": {"aggregate": "max", "field": "v", "type": "quantitative", "scale": {"zero": true, "nice": false, "range": [119,56]}, "axis": null}}},
 {"mark": {"type": "line", "color": "#7a1016", "strokeWidth": 3.5, "strokeJoin": "round"},
  "encoding": {"x": {"field": "day", "type": "quantitative", "scale": {"domain": [1,21], "range": [1226,1533], "nice": false, "zero": false}, "axis": null},
   "y": {"field": "v", "type": "quantitative", "scale": {"zero": true, "nice": false, "range": [119,56]}, "axis": null}}},
 {"transform": [{"joinaggregate": [{"op": "max", "field": "v", "as": "vmax"}]}, {"filter": "datum.v==datum.vmax"}],
  "mark": {"type": "circle", "size": 30, "color": "#7a1016", "opacity": 1},
  "encoding": {"x": {"field": "day", "type": "quantitative", "scale": {"domain": [1,21], "range": [1226,1533], "nice": false, "zero": false}, "axis": null},
   "y": {"field": "v", "type": "quantitative", "scale": {"zero": true, "nice": false, "range": [119,56]}, "axis": null}}},
 {"transform": [{"filter": "datum.day==1"}],
  "mark": {"type": "text", "fontSize": 13, "color": "#333333", "align": "right", "baseline": "middle", "dx": -5, "dy": -4},
  "encoding": {"x": {"field": "day", "type": "quantitative", "scale": {"domain": [1,21], "range": [1226,1533], "nice": false, "zero": false}, "axis": null},
   "y": {"field": "v", "type": "quantitative", "scale": {"zero": true, "nice": false, "range": [119,56]}, "axis": null}, "text": {"field": "v", "type": "quantitative", "format": ","}}},
 {"transform": [{"filter": "datum.day==21"}],
  "mark": {"type": "text", "fontSize": 13, "color": "#333333", "align": "left", "baseline": "middle", "dx": 4, "dy": -4},
  "encoding": {"x": {"field": "day", "type": "quantitative", "scale": {"domain": [1,21], "range": [1226,1533], "nice": false, "zero": false}, "axis": null},
   "y": {"field": "v", "type": "quantitative", "scale": {"zero": true, "nice": false, "range": [119,56]}, "axis": null}, "text": {"field": "v", "type": "quantitative", "format": ","}}},
 {"transform": [{"joinaggregate": [{"op": "max", "field": "v", "as": "vmax"}]}, {"filter": "datum.v==datum.vmax"}],
  "mark": {"type": "text", "fontSize": 13, "color": "#333333", "align": "left", "baseline": "middle", "dx": 3, "dy": 4},
  "encoding": {"x": {"field": "day", "type": "quantitative", "scale": {"domain": [1,21], "range": [1226,1533], "nice": false, "zero": false}, "axis": null},
   "y": {"field": "v", "type": "quantitative", "scale": {"zero": true, "nice": false, "range": [119,56]}, "axis": null}, "text": {"field": "v", "type": "quantitative", "format": ","}}}
 ]}
],
"resolve": {"scale": {"x": "independent", "y": "independent"}}
},
{
"width": 1568, "height": 138,
"data": {"name": "footer"},
"mark": {"type": "text", "align": "left", "baseline": "alphabetic", "fontSize": 18.3, "color": "#000000"},
"encoding": {"x": {"datum": 0, "type": "quantitative", "scale": {"domain": [0,1], "range": [2,1568], "nice": false, "zero": false}, "axis": null},
 "y": {"field": "line", "type": "quantitative", "scale": {"domain": [1,5], "range": [22,109], "nice": false, "zero": false}, "axis": null},
 "text": {"field": "text", "type": "nominal"}}
}
]
}
